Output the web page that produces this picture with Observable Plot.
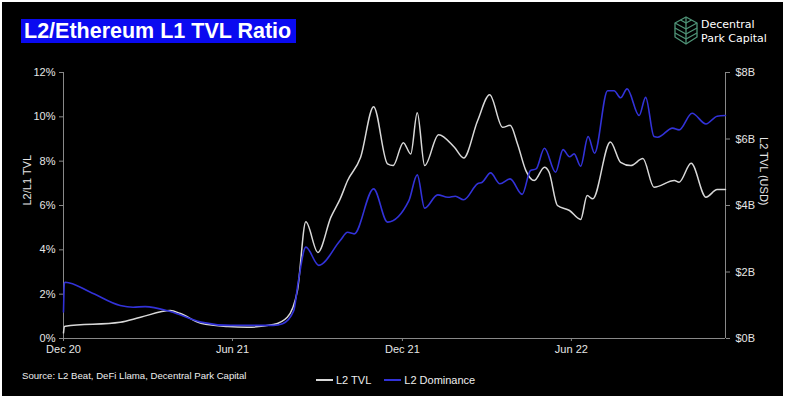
<!DOCTYPE html>
<html><head><meta charset="utf-8">
<script src="https://cdn.jsdelivr.net/npm/d3@7"></script>
<script src="https://cdn.jsdelivr.net/npm/@observablehq/plot@0.6"></script>
<style>
html,body{margin:0;padding:0;background:#fff;}
#wrap{position:relative;width:786px;height:399px;background:#fff;overflow:hidden;font-family:"Liberation Sans",Arial,sans-serif;}
#bg{position:absolute;left:2px;top:2px;width:781px;height:394px;background:#000;}
#title{position:absolute;left:21px;top:19px;width:275px;height:24px;background:#0a0af0;color:#fff;font-weight:bold;font-size:21.5px;line-height:25px;padding-left:3px;box-sizing:border-box;white-space:nowrap;}
#chart{position:absolute;left:0;top:0;}
#logo{position:absolute;left:672px;top:14px;width:28px;height:34px;}
#logotext{position:absolute;left:701px;top:18px;color:#fff;font-family:"DejaVu Sans",sans-serif;font-size:11px;line-height:13.5px;}
#source{position:absolute;left:22px;top:370px;color:#eee;font-size:9.6px;}
#legend{position:absolute;left:316px;top:374px;color:#eee;font-size:11px;display:flex;align-items:center;}
.sw{display:inline-block;width:17px;height:2px;margin-right:3px;}
</style></head>
<body>
<div id="wrap">
  <div id="bg"></div>
  <div id="chart"></div>
  <div id="title">L2/Ethereum L1 TVL Ratio</div>
  <svg id="logo" width="28" height="34" viewBox="0 0 28 34">
    <g fill="none" stroke="#4f9478" stroke-width="1.3" stroke-linejoin="round">
      <polygon points="14,3 25,9 25,23 14,30 3,23 3,9"/>
      <polyline points="3,9 14,15 25,9"/>
      <polyline points="3,14 14,20 25,14"/>
      <polyline points="3,19 14,25 25,19"/>
      <line x1="14" y1="3" x2="14" y2="30"/>
      <polyline points="8.5,6 14,9 19.5,6"/>
    </g>
  </svg>
  <div id="logotext">Decentral<br>Park Capital</div>
  <div id="source">Source: L2 Beat, DeFi Llama, Decentral Park Capital</div>
  <div id="legend">
    <span class="sw" style="background:#d8d8d8"></span><span style="margin-right:13px">L2 TVL</span>
    <span class="sw" style="background:#3232d8"></span><span>L2 Dominance</span>
  </div>
</div>
<script>
// L2 Dominance (L2/L1 TVL, %)
const dominanceDates = ["2020-12-01","2020-12-02","2020-12-03","2020-12-30","2021-01-31","2021-02-14","2021-02-27","2021-03-26","2021-04-28","2021-05-30","2021-07-15","2021-07-25","2021-08-06","2021-08-11","2021-08-19","2021-09-02","2021-09-25","2021-10-03","2021-10-10","2021-10-31","2021-11-15","2021-12-08","2021-12-17","2021-12-25","2022-01-08","2022-01-19","2022-01-27","2022-02-05","2022-02-20","2022-02-25","2022-03-06","2022-03-16","2022-03-27","2022-04-09","2022-04-18","2022-04-24","2022-05-03","2022-05-15","2022-05-23","2022-05-30","2022-06-04","2022-06-11","2022-06-19","2022-06-26","2022-07-10","2022-07-17","2022-07-24","2022-07-31","2022-08-13","2022-08-20","2022-08-29","2022-09-02","2022-09-18","2022-09-25","2022-10-09","2022-10-24","2022-11-05","2022-11-14"];
const dominanceValues = [1.2,2.5,2.54,2.09,1.49,1.41,1.44,1.22,0.74,0.59,0.59,0.67,1.26,2.6,4.12,3.3,4.42,4.79,4.72,6.75,5.25,6.22,7.38,5.88,6.48,6.37,6.42,6.26,6.98,7.05,7.47,6.98,7.2,6.5,7.58,7.65,8.58,7.5,8.52,8.2,8.33,7.77,9.11,8.36,11.18,11.18,10.86,11.26,10.06,10.88,9.11,9.08,9.49,9.41,10.16,9.68,10.03,10.06];
// L2 TVL (USD, billions)
const tvlDates = ["2020-12-01","2020-12-02","2020-12-03","2021-01-31","2021-02-22","2021-03-26","2021-04-06","2021-04-28","2021-05-27","2021-06-17","2021-07-15","2021-07-30","2021-08-10","2021-08-19","2021-09-01","2021-09-15","2021-09-25","2021-10-03","2021-10-17","2021-10-31","2021-11-15","2021-11-21","2021-12-02","2021-12-10","2021-12-17","2021-12-25","2022-01-09","2022-01-26","2022-02-05","2022-02-20","2022-03-05","2022-03-19","2022-03-27","2022-04-04","2022-04-13","2022-04-22","2022-05-03","2022-05-08","2022-05-17","2022-05-30","2022-06-11","2022-06-18","2022-06-24","2022-07-13","2022-07-24","2022-08-04","2022-08-17","2022-08-29","2022-09-20","2022-09-25","2022-10-08","2022-10-24","2022-11-05","2022-11-14"];
const tvlValues = [0.17,0.36,0.37,0.49,0.64,0.84,0.75,0.46,0.36,0.34,0.42,0.64,1.45,3.51,2.59,3.65,4.2,4.75,5.45,6.97,5.25,5.2,5.89,5.55,6.79,5.2,6.13,5.75,5.43,6.55,7.33,6.35,6.41,5.85,5.05,4.75,5.15,5.0,4.0,3.85,3.58,4.3,4.2,5.91,5.3,5.2,5.41,4.55,4.75,4.7,5.27,4.25,4.48,4.48];
const xTicks = ["2020-12-01","2021-06-01","2021-12-01","2022-06-01"];
const xTickLabels = ["Dec 20","Jun 21","Dec 21","Jun 22"];
const leftTicks = [0,2,4,6,8,10,12];
const rightTicksB = [0,2,4,6,8];

const parse = d3.utcParse("%Y-%m-%d");
const ratio = 12 / 8; // 12% on the left axis aligns with $8B on the right
const dom = dominanceDates.map((d,i)=>({date:parse(d), v:dominanceValues[i]}));
const tvl = tvlDates.map((d,i)=>({date:parse(d), v:tvlValues[i]}));
const xt = xTicks.map(parse);
const start = parse(dominanceDates[0]), end = parse(dominanceDates[dominanceDates.length-1]);

const chart = Plot.plot({
  width: 786, height: 370,
  marginLeft: 63, marginRight: 61, marginTop: 72, marginBottom: 32,
  style: {background:"transparent", color:"#e6e6e6", fontFamily:"'Liberation Sans', Arial, sans-serif", fontSize:"11px"},
  x: {type:"utc", domain:[start,end]},
  y: {domain:[0,12]},
  marks: [
    Plot.axisX(xt, {tickSize:3, tickPadding:4, stroke:"#888", tickFormat:(d)=>xTickLabels[xt.findIndex(t=>+t===+d)], label:null}),
    Plot.axisY(leftTicks, {anchor:"left", tickSize:4, tickPadding:4, stroke:"#888", tickFormat:d=>d+"%", label:null}),
    Plot.axisY(rightTicksB.map(b=>b*ratio), {anchor:"right", tickSize:4, tickPadding:6, stroke:"#888", tickFormat:d=>"$"+Math.round(d/ratio)+"B", label:null}),
    Plot.ruleX([start], {stroke:"#888"}),
    Plot.ruleX([end], {stroke:"#888"}),
    Plot.ruleY([0], {stroke:"#888"}),
    Plot.text(["L2/L1 TVL"], {frameAnchor:"left", dx:-36, rotate:-90, fill:"#e6e6e6", fontSize:11}),
    Plot.text(["L2 TVL (USD)"], {frameAnchor:"right", dx:38, rotate:90, fill:"#e6e6e6", fontSize:11}),
    Plot.lineY(tvl, {x:"date", y:d=>d.v*ratio, stroke:"#d8d8d8", strokeWidth:1.5, curve:"monotone-x"}),
    Plot.lineY(dom, {x:"date", y:"v", stroke:"#3232d8", strokeWidth:1.6, curve:"monotone-x"})
  ]
});
document.getElementById("chart").appendChild(chart);
</script>
</body></html>
